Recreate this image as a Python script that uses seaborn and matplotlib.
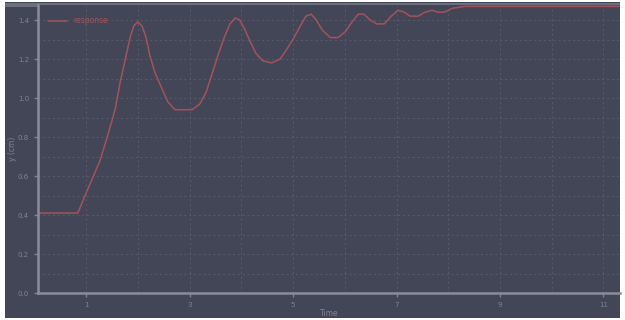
import numpy as np
import pandas as pd
import matplotlib
matplotlib.use("Agg")
import matplotlib.pyplot as plt
import seaborn as sns
from matplotlib.patches import Rectangle
from matplotlib.ticker import MultipleLocator

# values (time, response)
time = [0.07, 0.49, 0.84, 0.98, 1.11, 1.27, 1.42, 1.56, 1.65, 1.75, 1.85, 1.92,
        2.00, 2.08, 2.16, 2.23, 2.33, 2.43, 2.58, 2.72, 2.87, 3.05, 3.20, 3.32,
        3.43, 3.55, 3.67, 3.78, 3.88, 3.97, 4.07, 4.17, 4.28, 4.42, 4.59, 4.75,
        4.88, 5.02, 5.14, 5.25, 5.35, 5.45, 5.56, 5.72, 5.87, 6.01, 6.14, 6.26,
        6.37, 6.49, 6.62, 6.76, 6.90, 7.03, 7.15, 7.26, 7.42, 7.55, 7.69, 7.80,
        7.92, 8.08, 8.33, 9.00, 10.16, 11.32]
response = [0.41, 0.41, 0.41, 0.50, 0.58, 0.68, 0.81, 0.94, 1.07, 1.19, 1.31, 1.37,
            1.39, 1.37, 1.31, 1.22, 1.13, 1.07, 0.98, 0.94, 0.94, 0.94, 0.97, 1.03,
            1.12, 1.22, 1.31, 1.38, 1.41, 1.40, 1.35, 1.29, 1.23, 1.19, 1.18, 1.20,
            1.25, 1.31, 1.37, 1.42, 1.43, 1.40, 1.35, 1.31, 1.31, 1.34, 1.39, 1.43,
            1.43, 1.40, 1.38, 1.38, 1.42, 1.45, 1.44, 1.42, 1.42, 1.44, 1.45, 1.44,
            1.44, 1.46, 1.47, 1.47, 1.47, 1.47]
series_name = "response"

bg = "#434656"
grid_col = "#575b6b"
text_col = "#7f8391"
line_col = "#a4525d"

sns.set_style("dark", {"axes.facecolor": bg, "figure.facecolor": "white"})
plt.rcParams["font.family"] = ["DejaVu Sans"]

df = pd.DataFrame({"time": time, "value": response, "series": series_name})

fig = plt.figure(figsize=(6.25, 3.2), dpi=100)
# dark panel behind the chart
fig.patches.append(Rectangle((5 / 625, 2 / 320), 615 / 625, 316 / 320,
                             transform=fig.transFigure, facecolor=bg,
                             edgecolor="none", zorder=-10))
fig.patches.append(Rectangle((5 / 625, 313 / 320), 615 / 625, 4 / 320,
                             transform=fig.transFigure, facecolor="#6c6f7c",
                             edgecolor="none", zorder=-9))

ax = fig.add_axes([38 / 625, 27 / 320, 582 / 625, 288 / 320])
sns.lineplot(data=df, x="time", y="value", hue="series", palette=[line_col],
             linewidth=1.1, ax=ax)

ax.set_xlim(0.07, 11.32)
ax.set_ylim(0, 1.477)
ax.xaxis.set_major_locator(MultipleLocator(2, offset=1))
ax.xaxis.set_minor_locator(MultipleLocator(1))
ax.yaxis.set_major_locator(MultipleLocator(0.2))
ax.yaxis.set_minor_locator(MultipleLocator(0.1))
ax.set_yticklabels([f"{v:.1f}" for v in ax.get_yticks()])
ax.grid(which="both", color=grid_col, linestyle=(0, (2, 3)), linewidth=0.7)
ax.tick_params(which="both", colors=text_col, labelsize=5, length=3, width=1)
ax.tick_params(which="minor", length=2)
ax.tick_params(axis="x", bottom=True)
ax.tick_params(axis="y", left=True)

for side in ["top", "right"]:
    ax.spines[side].set_visible(False)
for side in ["left", "bottom"]:
    ax.spines[side].set_color("#8a8d99")
    ax.spines[side].set_linewidth(1.8)

ax.set_xlabel("Time", color=text_col, fontsize=5.5, labelpad=3)
ax.set_ylabel("y (cm)", color=text_col, fontsize=5.5, labelpad=4)
ax.xaxis.set_label_coords(0.5, -0.055)
ax.yaxis.set_label_coords(-0.036, 0.5)

leg = ax.legend(loc="upper left", frameon=False, fontsize=5.5, handlelength=2.5,
                bbox_to_anchor=(0.005, 0.985))
for t in leg.get_texts():
    t.set_color(line_col)

fig.savefig("out.png", dpi=100)
